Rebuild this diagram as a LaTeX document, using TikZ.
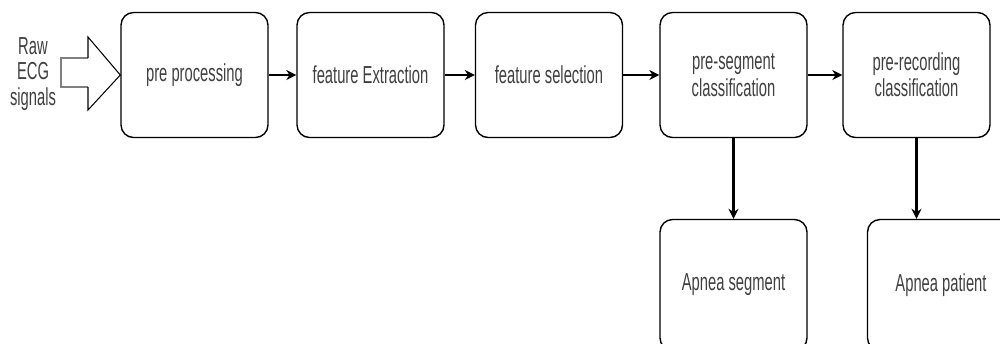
\documentclass[tikz,border=0pt]{standalone}
\usepackage{fontspec}
\setmainfont[FakeStretch=0.6]{Liberation Sans}
\usetikzlibrary{arrows.meta}

\begin{document}
\begin{tikzpicture}[x=0.02cm, y=-0.02cm,
    block/.style={draw, rounded corners=0.25cm, line width=0.8pt, minimum width=2.94cm, minimum height=2.5cm, align=center, text=black!75, font=\fontsize{14}{15}\selectfont},
    link/.style={-{Stealth[length=0.2cm,width=0.2cm]}, line width=1.2pt}]

    \useasboundingbox (0,0) rectangle (1000,343);

    % main chain
    \node[block] (pre) at (194.5,75) {pre processing};
    \node[block] (ext) at (370.5,75) {feature Extraction};
    \node[block] (sel) at (549,75) {feature selection};
    \node[block] (seg) at (733.5,75) {pre-segment\\classification};
    \node[block] (rec) at (916.5,75) {pre-recording\\classification};

    % outputs
    \node[block, minimum height=2.62cm] (aseg) at (733.5,285) {Apnea segment};
    \node[block, minimum height=2.62cm] (apat) at (941,285) {Apnea patient};

    % input
    \node[align=center, text=black!75, font=\fontsize{14}{14.5}\selectfont] (raw) at (33,74) {Raw\\ECG\\signals};
    \draw[gray, line width=1.5pt] (88,58) -- (61,58) -- (61,87) -- (88,87);
    \draw[line width=0.6pt] (88,58) -- (88,37) -- (pre.west) -- (88,110) -- (88,87);

    \draw[link] (pre) -- (ext);
    \draw[link] (ext) -- (sel);
    \draw[link] (sel) -- (seg);
    \draw[link] (seg) -- (rec);
    \draw[link] (seg.south) -- (aseg.north);
    \draw[link] (rec.south) -- (rec.south |- apat.north);
\end{tikzpicture}
\end{document}
